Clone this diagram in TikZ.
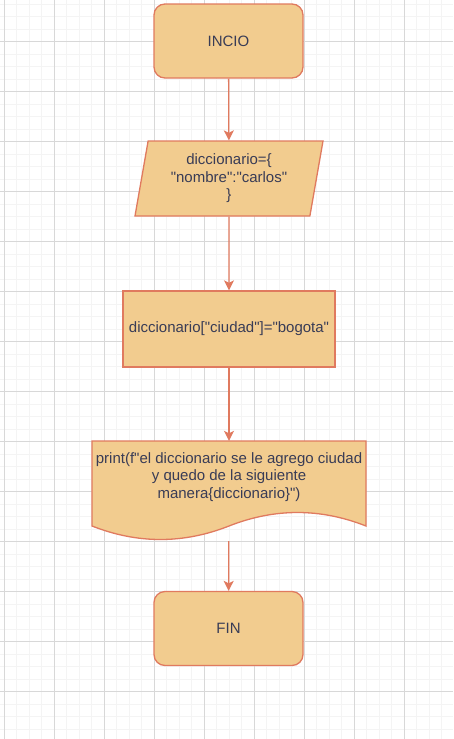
\documentclass[tikz,border=0pt]{standalone}
\usepackage{fontspec}
\setmainfont{Liberation Sans}[Ligatures=TeXOff]
\usetikzlibrary{shapes.geometric,arrows.meta}
\definecolor{boxfill}{HTML}{F2CC8F}
\definecolor{boxline}{HTML}{E07A5F}
\definecolor{boxtext}{HTML}{393C56}
\definecolor{gridminor}{HTML}{F4F4F4}
\definecolor{gridmajor}{HTML}{D8D8D8}
\tikzset{
  flowbox/.style={draw=boxline, fill=boxfill, text=boxtext, line width=1.3pt,
    font=\fontsize{15}{17.5}\selectfont, align=center, inner sep=0pt},
  terminal/.style={flowbox, rectangle, rounded corners=11pt,
    minimum width=149pt, minimum height=74pt},
  iobox/.style={flowbox, trapezium, trapezium left angle=75, trapezium right angle=105,
    trapezium stretches body, minimum width=188pt, minimum height=75pt},
  process/.style={flowbox, rectangle, minimum width=212pt, minimum height=76pt},
  flowarrow/.style={draw=boxline, line width=1.3pt, -{Stealth[length=10pt,width=10pt,inset=2.5pt]}}
}
\begin{document}
\begin{tikzpicture}[x=1pt,y=-1pt]
\useasboundingbox (0,0) rectangle (453,739);
\fill[white] (0,0) rectangle (453,739);
% Draw the grid
\foreach \x in {4,16.5,...,442}
  \draw[gridminor, line width=1pt] (\x,0) -- (\x,739);
\foreach \y in {4.2,16.7,...,735}
  \draw[gridminor, line width=1pt] (0,\y) -- (453,\y);
\foreach \x in {4,54,...,404}
  \draw[gridmajor, line width=1pt] (\x,0) -- (\x,739);
\foreach \y in {41.7,91.7,...,692}
  \draw[gridmajor, line width=1pt] (0,\y) -- (453,\y);
% Draw the flow boxes
\node[terminal] (start) at (228.5,41) {INCIO};
\node[iobox] (dict) at (229,178.5) {diccionario=\{\\ "nombre":"carlos"\\ \}};
\node[process] (city) at (229,329) {diccionario["ciudad"]="bogota"};
% Draw the document symbol
\node[inner sep=0pt, minimum width=274pt, minimum height=100pt] (out) at (229,491) {};
\draw[draw=boxline, fill=boxfill, line width=1.3pt] (92,441) -- (366,441) -- (366,526)
  .. controls (320.3,508) and (274.7,508) .. (229,526)
  .. controls (183.3,544) and (137.7,544) .. (92,526) -- cycle;
\node[text=boxtext, font=\fontsize{15}{17.5}\selectfont, align=center] (outtext) at (229,477)
  {print(f"el diccionario se le agrego ciudad\\ y quedo de la siguiente\\ manera\{diccionario\}")};
\node[terminal] (end) at (228.5,628.5) {FIN};
% Draw the arrows
\draw[flowarrow] (start) -- (dict);
\draw[flowarrow] (dict) -- (city);
\draw[flowarrow] (city) -- (out);
\draw[flowarrow] (out) -- (end);
\end{tikzpicture}
\end{document}
